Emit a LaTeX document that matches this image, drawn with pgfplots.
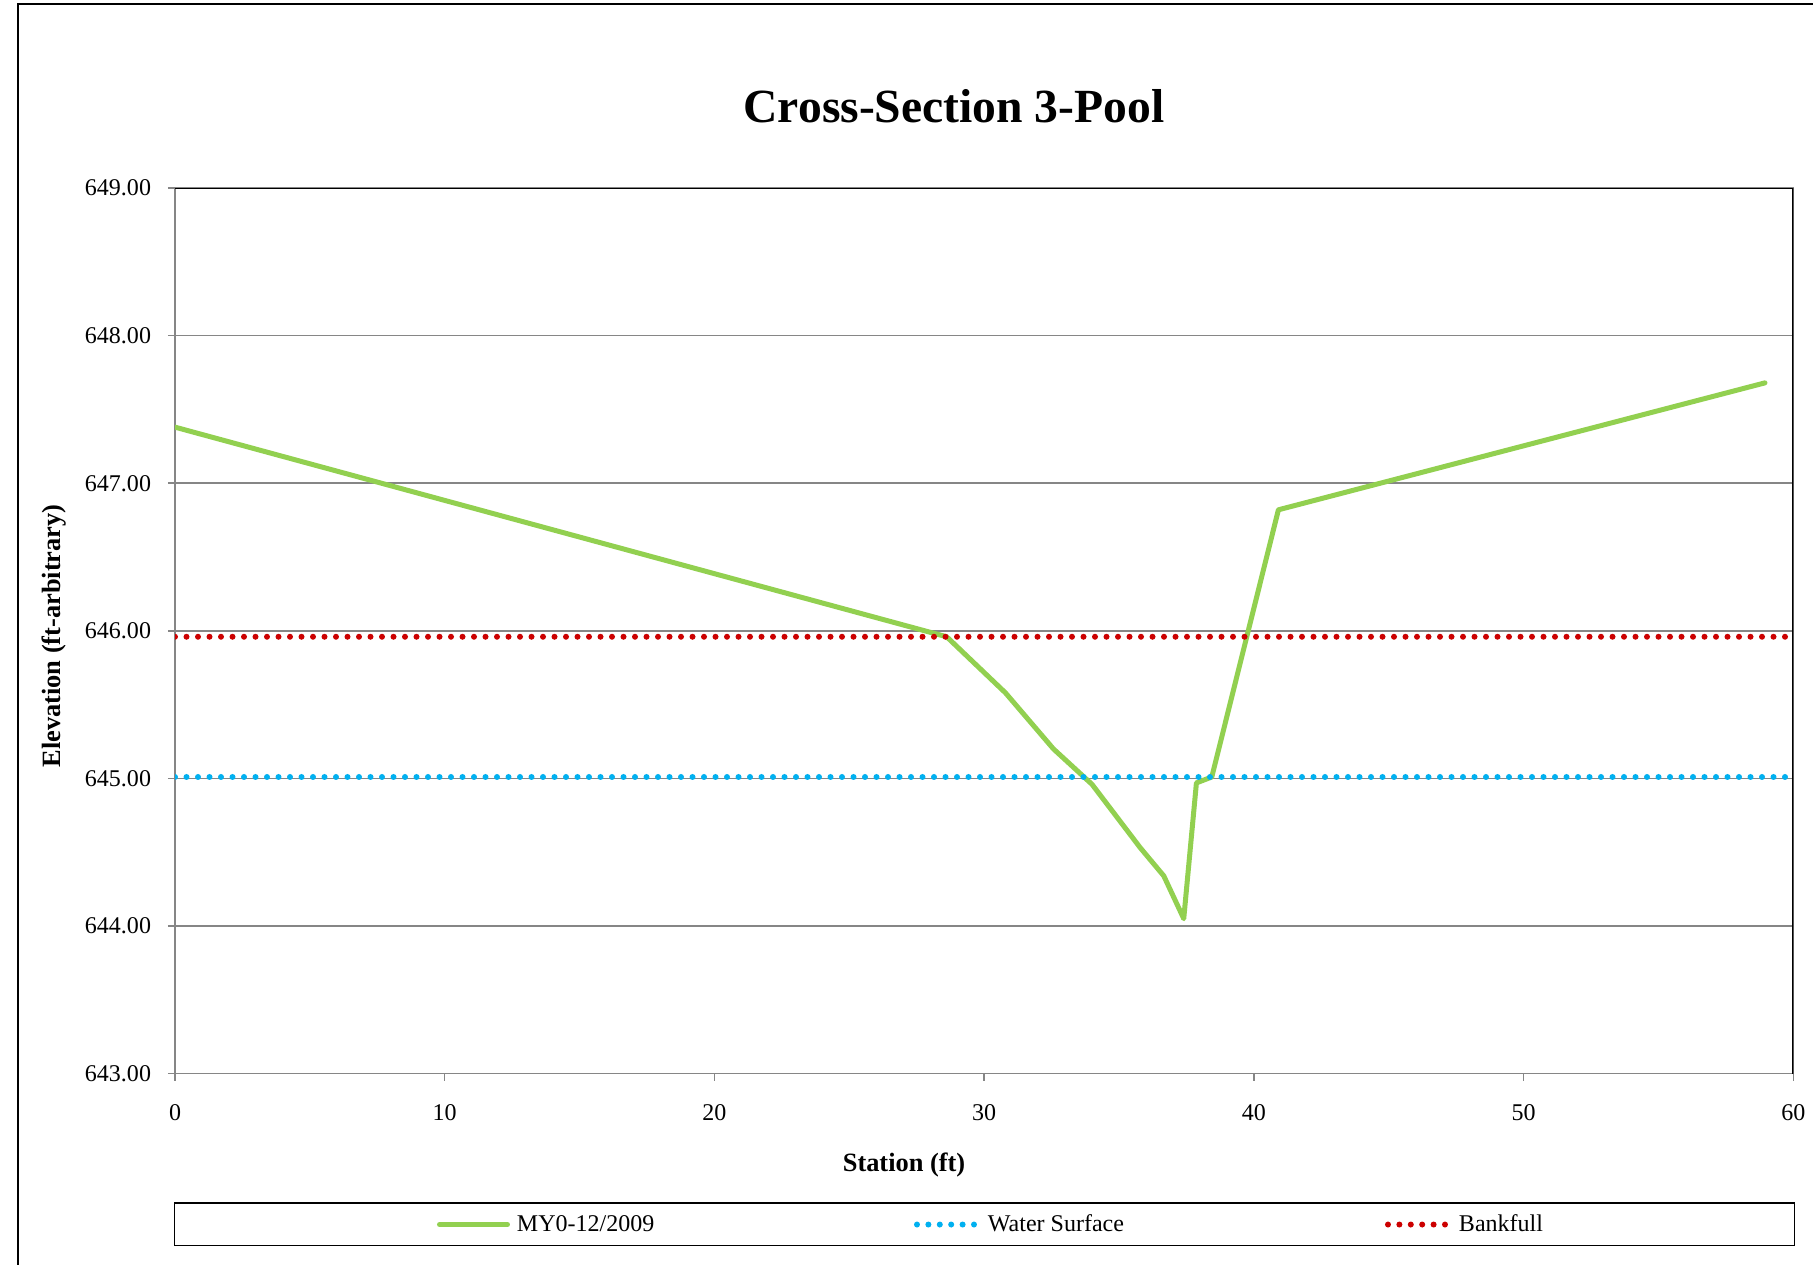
\documentclass[border=0pt]{standalone}
\usepackage{pgfplots}
\pgfplotsset{compat=1.18}
\usepackage{fontspec}
\setmainfont{Liberation Serif}
\definecolor{grn}{RGB}{146,208,80}
\definecolor{wsblue}{RGB}{0,176,240}
\definecolor{bfred}{RGB}{204,0,0}
\definecolor{gridgray}{RGB}{134,134,134}
\begin{document}
\begin{tikzpicture}
\useasboundingbox (0,0) rectangle (906.5bp,632.5bp);
\fill[white] (0,0) rectangle (906.5bp,632.5bp);
\draw[line width=1bp] (9bp,0) -- (9bp,630.5bp) -- (906.5bp,630.5bp);
\node[font=\bfseries\fontsize{23.8bp}{28bp}\selectfont, anchor=base] at (477bp,571.2bp) {Cross-Section 3-Pool};
\draw[line width=0.8bp] (87.15bp,9.65bp) rectangle (897.15bp,30.85bp);
\begin{axis}[
  at={(87.5bp,95.65bp)}, anchor=south west,
  width=809.15bp, height=442.85bp, scale only axis,
  xmin=0, xmax=60, ymin=643, ymax=649,
  xtick={0,10,20,30,40,50,60},
  ytick={643,644,645,646,647,648,649},
  xtick pos=bottom, ytick pos=left,
  tick align=outside, major tick length=3.5bp,
  tick style={gridgray, line width=0.75bp},
  axis line style={gridgray, line width=0.75bp},
  ymajorgrids, grid style={gridgray, line width=0.75bp},
  /pgf/number format/assume math mode=true,
  yticklabel={\pgfmathprintnumber[fixed,fixed zerofill,precision=2,1000 sep={}]{\tick}},
  xticklabel={\pgfmathprintnumber[fixed,precision=0]{\tick}},
  yticklabel style={font=\fontsize{12bp}{14bp}\selectfont, anchor=east, inner sep=0pt, xshift=-8.3bp},
  xticklabel style={font=\fontsize{12bp}{14bp}\selectfont, anchor=north, inner sep=0pt, yshift=-11.7bp},
  xlabel={Station (ft)}, ylabel={Elevation (ft-arbitrary)},
  every axis x label/.style={at={(axis description cs:0.4505,-0.1036)}, anchor=center, font=\bfseries\fontsize{13.2bp}{15bp}\selectfont},
  every axis y label/.style={at={(axis description cs:-0.0748,0.4942)}, anchor=center, rotate=90, font=\bfseries\fontsize{13.2bp}{15bp}\selectfont},
  legend columns=3,
  legend style={draw=none, fill=none, inner sep=0pt, outer sep=0pt,
    at={(axis description cs:0.1619,-0.1703)}, anchor=west,
    font=\fontsize{12bp}{14bp}\selectfont,
    nodes={inner sep=0pt, outer sep=0pt},
    /tikz/every odd column/.append style={column sep=3.5bp}},
]
\addplot[grn, line width=2.5bp, line join=round, line cap=round,
  legend image code/.code={\draw[grn, line width=2.5bp] (0bp,0bp) -- (34bp,0bp);}]
  coordinates {
  (0,647.38) (28.61,645.96) (30.79,645.58) (32.57,645.20) (34.00,644.96)
  (35.79,644.53) (36.66,644.34) (37.40,644.05) (37.87,644.97) (38.44,645.01)
  (40.91,646.82) (58.95,647.68)
  };
\addlegendentry{\makebox[198.5bp][l]{MY0-12/2009}}
\addplot[wsblue, line width=3bp, line cap=round, dash pattern=on 0pt off 5.75bp,
  legend image code/.code={\draw[wsblue, line width=3bp, line cap=round, dash pattern=on 0pt off 5.7bp] (0.5bp,0bp) -- (31bp,0bp);}]
  coordinates {(0,645.01) (60,645.01)};
\addlegendentry{\makebox[198.5bp][l]{Water Surface}}
\addplot[bfred, line width=3bp, line cap=round, dash pattern=on 0pt off 5.75bp,
  legend image code/.code={\draw[bfred, line width=3bp, line cap=round, dash pattern=on 0pt off 5.7bp] (0.5bp,0bp) -- (31bp,0bp);}]
  coordinates {(0,645.96) (60,645.96)};
\addlegendentry{\makebox[60bp][l]{Bankfull}}
\draw[black, line width=0.9bp] (rel axis cs:0,1) -- (rel axis cs:1,1) -- (rel axis cs:1,0);
\end{axis}
\end{tikzpicture}
\end{document}
